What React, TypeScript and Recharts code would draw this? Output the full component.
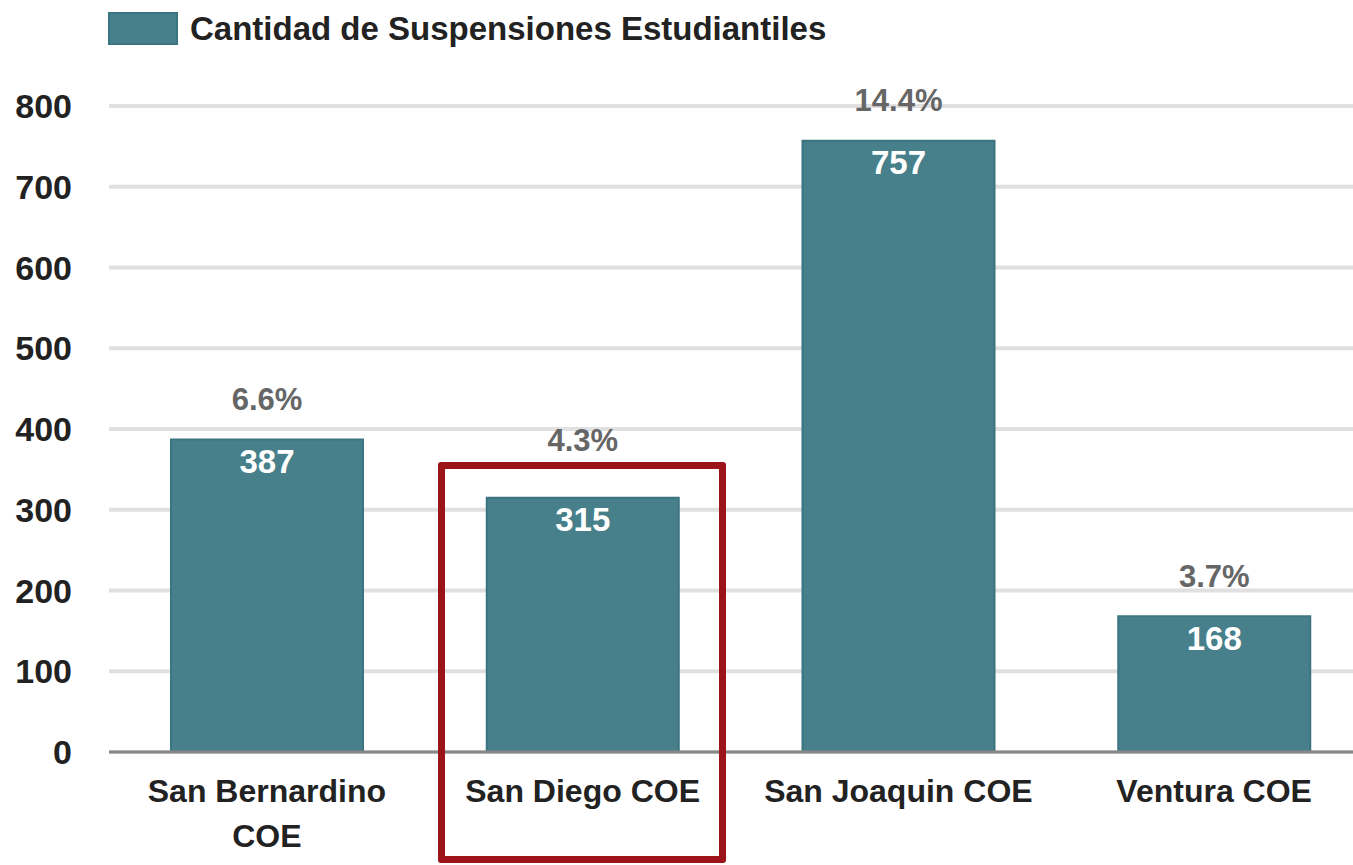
import React from 'react';
import { BarChart, Bar, XAxis, YAxis, CartesianGrid, LabelList } from 'recharts';

const categories = ['San Bernardino COE', 'San Diego COE', 'San Joaquin COE', 'Ventura COE'];
const suspensions = [387, 315, 757, 168];
const rates = ['6.6%', '4.3%', '14.4%', '3.7%'];
const yTicks = [0, 100, 200, 300, 400, 500, 600, 700, 800];

const SERIES_NAME = 'Cantidad de Suspensiones Estudiantiles';
const BAR_FILL = '#477F8B';
const BAR_STROKE = '#3C7582';
const FONT = '"Liberation Sans", Arial, sans-serif';
const BOX_TOP = 462;

const data = categories.map((name, i) => ({ name, value: suspensions[i], rate: rates[i] }));

// long labels wrap: last word goes on a second line
const splitLabel = (label: string) => {
  if (label.length <= 15) return [label];
  const words = label.split(' ');
  return [words.slice(0, -1).join(' '), words[words.length - 1]];
};

const XTick = (props: any) => {
  const { x, y, payload } = props;
  const lines = splitLabel(String(payload.value));
  return (
    <text
      x={x}
      y={y + 50}
      textAnchor="middle"
      fontFamily={FONT}
      fontWeight="bold"
      fontSize={32}
      fill="#222"
    >
      {lines.map((l, i) => (
        <tspan key={i} x={x} dy={i === 0 ? 0 : 45}>
          {l}
        </tspan>
      ))}
    </text>
  );
};

const RateLabel = (props: any) => {
  const { x, y, width, index } = props;
  let ly = y - 40;
  // keep the label clear of the highlight box
  if (ly > BOX_TOP - 40 && ly < BOX_TOP + 30) ly = BOX_TOP - 22;
  return (
    <text
      x={x + width / 2}
      y={ly}
      textAnchor="middle"
      dominantBaseline="central"
      fontFamily={FONT}
      fontWeight="bold"
      fontSize={31}
      fill="#666"
    >
      {rates[index]}
    </text>
  );
};

const ValueLabel = (props: any) => {
  const { x, y, width, value } = props;
  return (
    <text
      x={x + width / 2}
      y={y + 22}
      textAnchor="middle"
      dominantBaseline="central"
      fontFamily={FONT}
      fontWeight="bold"
      fontSize={33}
      fill="#fff"
    >
      {value}
    </text>
  );
};

export default function App() {
  return (
    <div
      style={{
        position: 'absolute',
        left: 0,
        top: 0,
        width: 1353,
        height: 865,
        overflow: 'hidden',
        background: '#fff',
        fontFamily: FONT,
      }}
    >
      {/* legend */}
      <div style={{ position: 'absolute', left: 108, top: 12, display: 'flex', alignItems: 'center' }}>
        <div
          style={{
            width: 70,
            height: 33,
            background: BAR_FILL,
            border: `2px solid ${BAR_STROKE}`,
            boxSizing: 'border-box',
          }}
        />
        <span style={{ marginLeft: 12, fontSize: 33, fontWeight: 'bold', color: '#222', lineHeight: '33px' }}>
          {SERIES_NAME}
        </span>
      </div>

      <BarChart
        width={1372}
        height={865}
        data={data}
        margin={{ top: 106, right: 0, bottom: 0, left: 0 }}
        style={{ position: 'absolute', left: 0, top: 0 }}
      >
        <CartesianGrid vertical={false} stroke="#e0e0e0" strokeWidth={4} />
        <YAxis
          width={109}
          domain={[0, 800]}
          ticks={yTicks}
          axisLine={false}
          tickLine={false}
          tickMargin={31}
          tick={{ fontFamily: FONT, fontWeight: 'bold', fontSize: 34, fill: '#222' }}
        />
        <XAxis
          dataKey="name"
          height={113}
          axisLine={{ stroke: '#888', strokeWidth: 3 }}
          tickLine={false}
          tickSize={0}
          tickMargin={0}
          interval={0}
          tick={<XTick />}
        />
        <Bar
          dataKey="value"
          name={SERIES_NAME}
          fill={BAR_FILL}
          stroke={BAR_STROKE}
          strokeWidth={2}
          barSize={192}
          isAnimationActive={false}
        >
          <LabelList dataKey="value" content={<ValueLabel />} />
          <LabelList dataKey="rate" content={<RateLabel />} />
        </Bar>
      </BarChart>

      {/* highlight box */}
      <div
        style={{
          position: 'absolute',
          left: 438,
          top: BOX_TOP,
          width: 288,
          height: 401,
          border: '7px solid #9C1419',
          borderRadius: 3,
          boxSizing: 'border-box',
        }}
      />
    </div>
  );
}
